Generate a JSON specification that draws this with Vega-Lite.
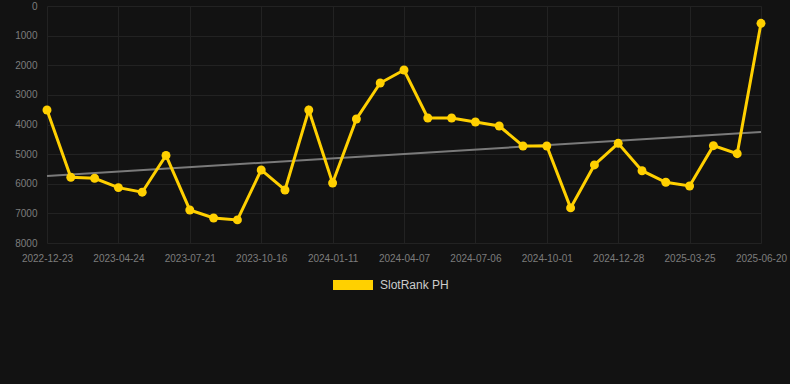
{
  "$schema": "https://vega.github.io/schema/vega-lite/v6.json",
  "width": 747,
  "height": 237,
  "autosize": {"type": "none"},
  "padding": {"left": 43, "top": 6, "right": 0, "bottom": 141},
  "background": "#121212",
  "config": {
    "view": {"stroke": null},
    "font": "Liberation Sans",
    "axis": {
      "labelColor": "#7d7d7d",
      "labelFontSize": 10,
      "labelFont": "Liberation Sans",
      "gridColor": "#222222",
      "gridWidth": 1,
      "domain": false,
      "ticks": false,
      "title": null
    }
  },
  "datasets": {
    "rank": [
      {"date": "2022-12-23", "rank": 3510, "series": "SlotRank PH"},
      {"date": "2023-02-03", "rank": 5780, "series": "SlotRank PH"},
      {"date": "2023-03-15", "rank": 5815, "series": "SlotRank PH"},
      {"date": "2023-04-24", "rank": 6130, "series": "SlotRank PH"},
      {"date": "2023-05-23", "rank": 6285, "series": "SlotRank PH"},
      {"date": "2023-06-22", "rank": 5045, "series": "SlotRank PH"},
      {"date": "2023-07-21", "rank": 6885, "series": "SlotRank PH"},
      {"date": "2023-08-19", "rank": 7155, "series": "SlotRank PH"},
      {"date": "2023-09-17", "rank": 7220, "series": "SlotRank PH"},
      {"date": "2023-10-16", "rank": 5535, "series": "SlotRank PH"},
      {"date": "2023-11-14", "rank": 6210, "series": "SlotRank PH"},
      {"date": "2023-12-13", "rank": 3510, "series": "SlotRank PH"},
      {"date": "2024-01-11", "rank": 5975, "series": "SlotRank PH"},
      {"date": "2024-02-09", "rank": 3815, "series": "SlotRank PH"},
      {"date": "2024-03-09", "rank": 2600, "series": "SlotRank PH"},
      {"date": "2024-04-07", "rank": 2160, "series": "SlotRank PH"},
      {"date": "2024-05-07", "rank": 3780, "series": "SlotRank PH"},
      {"date": "2024-06-06", "rank": 3780, "series": "SlotRank PH"},
      {"date": "2024-07-06", "rank": 3915, "series": "SlotRank PH"},
      {"date": "2024-08-04", "rank": 4050, "series": "SlotRank PH"},
      {"date": "2024-09-02", "rank": 4725, "series": "SlotRank PH"},
      {"date": "2024-10-01", "rank": 4725, "series": "SlotRank PH"},
      {"date": "2024-10-30", "rank": 6815, "series": "SlotRank PH"},
      {"date": "2024-11-29", "rank": 5365, "series": "SlotRank PH"},
      {"date": "2024-12-28", "rank": 4635, "series": "SlotRank PH"},
      {"date": "2025-01-26", "rank": 5560, "series": "SlotRank PH"},
      {"date": "2025-02-24", "rank": 5950, "series": "SlotRank PH"},
      {"date": "2025-03-25", "rank": 6075, "series": "SlotRank PH"},
      {"date": "2025-04-23", "rank": 4715, "series": "SlotRank PH"},
      {"date": "2025-05-22", "rank": 4985, "series": "SlotRank PH"},
      {"date": "2025-06-20", "rank": 585, "series": "SlotRank PH"}
    ],
    "trend": [
      {"date": "2022-12-23", "rank": 5737},
      {"date": "2025-06-20", "rank": 4252}
    ]
  },
  "encoding": {
    "x": {
      "field": "date",
      "type": "ordinal",
      "sort": "ascending",
      "scale": {"type": "point", "range": [4, 718], "padding": 0},
      "axis": {
        "labelAngle": 0,
        "labelPadding": 10,
        "grid": true,
        "values": ["2022-12-23", "2023-04-24", "2023-07-21", "2023-10-16", "2024-01-11", "2024-04-07", "2024-07-06", "2024-10-01", "2024-12-28", "2025-03-25", "2025-06-20"]
      }
    },
    "y": {
      "field": "rank",
      "type": "quantitative",
      "scale": {"domain": [0, 8000], "reverse": true, "nice": false},
      "axis": {"values": [0, 1000, 2000, 3000, 4000, 5000, 6000, 7000, 8000], "format": "d", "labelPadding": 6, "grid": true}
    }
  },
  "layer": [
    {
      "data": {"name": "trend"},
      "mark": {"type": "line", "color": "#7a7a7a", "strokeWidth": 2}
    },
    {
      "data": {"name": "rank"},
      "mark": {"type": "line", "strokeWidth": 3, "point": {"size": 80, "filled": true, "opacity": 1}},
      "encoding": {
        "color": {
          "field": "series",
          "type": "nominal",
          "scale": {"range": ["#FFD000"]},
          "legend": {
            "title": null,
            "orient": "none",
            "legendX": 290,
            "legendY": 259,
            "symbolType": "M-1,-0.25H1V0.25H-1Z",
            "symbolSize": 1600,
            "symbolStrokeWidth": 0,
            "labelColor": "#cccccc",
            "labelFontSize": 12,
            "labelFont": "Liberation Sans",
            "labelOffset": 7
          }
        }
      }
    }
  ]
}
